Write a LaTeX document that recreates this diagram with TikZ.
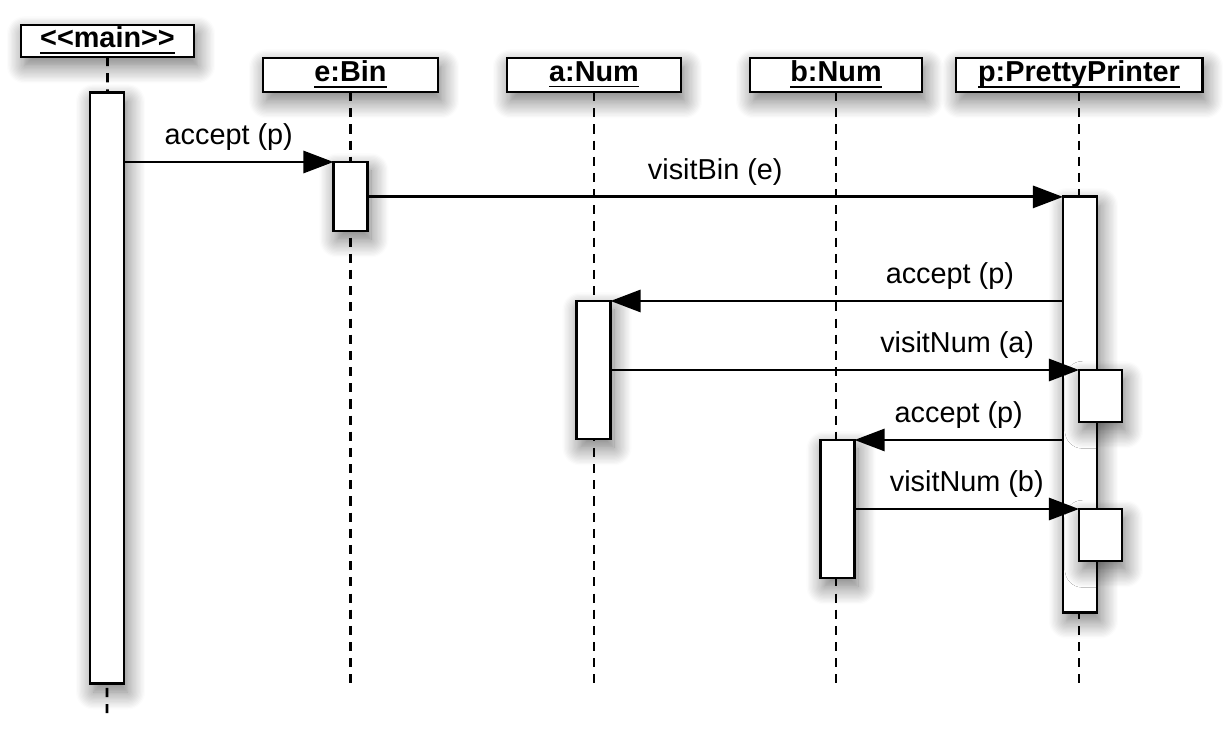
\documentclass[tikz,border=0pt]{standalone}
\usepackage{fontspec}
\setmainfont{Liberation Sans}
\usetikzlibrary{calc, shapes, arrows.meta, shadows.blur}
\newcommand{\objname}[1]{\underline{\raisebox{0pt}[\height][0pt]{#1}}}

\begin{document}
\begin{tikzpicture}[x=0.01cm, y=-0.01cm, font=\fontsize{8.2}{10}\selectfont,
	shade/.style={blur shadow={shadow xshift=1pt, shadow yshift=-2.5pt, shadow blur radius=5pt, shadow blur steps=14, shadow opacity=55}},
	object/.style={draw, fill=white, line width=0.8pt, shade, inner sep=0pt, outer sep=0pt, minimum height=0.34cm, font=\fontsize{8.2}{10}\selectfont\bfseries},
	activation/.style={draw, fill=white, line width=0.8pt, shade, inner sep=0pt, outer sep=0pt, minimum width=0.34cm},
	lifeline/.style={line width=0.8pt, dash pattern=on 2.6pt off 2pt},
	message/.style={line width=0.8pt, -{Triangle[length=0.3cm, width=0.22cm]}}]
	\useasboundingbox (0,0) rectangle (1228,747);
	\node[object, minimum width=1.73cm, minimum height=0.32cm] (MAIN) at (107.5,41) {\objname{{<}{<}main{>}{>}}};
	\node[object, minimum width=1.75cm] (E) at (350.5,75) {\objname{e:Bin}};
	\node[object, minimum width=1.74cm] (A) at (594,75) {\objname{a:Num}};
	\node[object, minimum width=1.72cm] (B) at (836,75) {\objname{b:Num}};
	\node[object, minimum width=2.46cm] (P) at (1079,75) {\objname{p:PrettyPrinter}};
	\coordinate (MAIN-END) at (107,715);
	\coordinate (E-END) at (350.5,683);
	\coordinate (A-END) at (594,683);
	\coordinate (B-END) at (836,683);
	\coordinate (P-END) at (1079,683);
	\foreach \obj in {MAIN, E, A, B, P}
		\draw[lifeline] (\obj.south) -- (\obj-END);
	\node[activation, minimum height=5.9cm] (@MAIN) at (107,388) {};
	\node[activation, minimum height=0.69cm] (@E) at (350.5,196.5) {};
	\node[activation, minimum height=1.38cm] (@A) at (593.5,370) {};
	\node[activation, minimum height=1.38cm] (@B) at (837.5,509) {};
	\node[activation, minimum height=4.15cm] (@P) at (1080,404.5) {};
	\node[activation, minimum width=0.43cm, minimum height=0.52cm] (@P1) at (1100.5,396) {};
	\node[activation, minimum width=0.43cm, minimum height=0.52cm] (@P2) at (1100.5,535) {};
	\draw[message] (@MAIN.east |- @E.north) -- node[above=-0.5pt] {accept (p)} (@E.north west);
	\draw[message] (@E.east |- @P.north) -- node[above=-0.5pt] {visitBin (e)} (@P.north west);
	\draw[message] (@P.west |- @A.north) -- node[pos=0.25, above=-0.5pt] {accept (p)} (@A.north east);
	\draw[message] (@A.east |- @P1.north) -- node[pos=0.74, above=-0.5pt] {visitNum (a)} (@P1.north west);
	\draw[message] (@P.west |- @B.north) -- node[above=-0.5pt] {accept (p)} (@B.north east);
	\draw[message] (@B.east |- @P2.north) -- node[above=-0.5pt] {visitNum (b)} (@P2.north west);
\end{tikzpicture}
\end{document}
